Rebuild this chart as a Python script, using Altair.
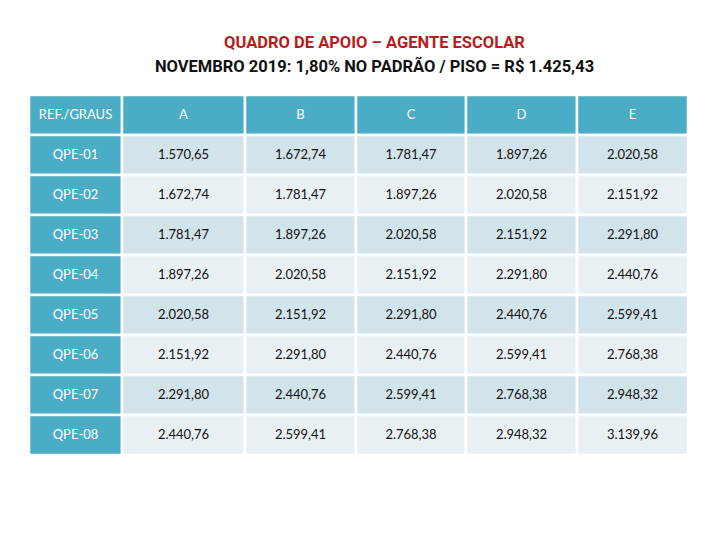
import altair as alt
import pandas as pd

title_line1 = "QUADRO DE APOIO – AGENTE ESCOLAR"
title_line2 = "NOVEMBRO 2019: 1,80% NO PADRÃO / PISO = R$ 1.425,43"

header = ["REF./GRAUS", "A", "B", "C", "D", "E"]
row_labels = ["QPE-01", "QPE-02", "QPE-03", "QPE-04", "QPE-05", "QPE-06", "QPE-07", "QPE-08"]
col_A = ["1.570,65", "1.672,74", "1.781,47", "1.897,26", "2.020,58", "2.151,92", "2.291,80", "2.440,76"]
col_B = ["1.672,74", "1.781,47", "1.897,26", "2.020,58", "2.151,92", "2.291,80", "2.440,76", "2.599,41"]
col_C = ["1.781,47", "1.897,26", "2.020,58", "2.151,92", "2.291,80", "2.440,76", "2.599,41", "2.768,38"]
col_D = ["1.897,26", "2.020,58", "2.151,92", "2.291,80", "2.440,76", "2.599,41", "2.768,38", "2.948,32"]
col_E = ["2.020,58", "2.151,92", "2.291,80", "2.440,76", "2.599,41", "2.768,38", "2.948,32", "3.139,96"]

# relative column widths of the table layout
col_widths = [93, 123, 111, 110, 111, 111]

edges = [0]
for w in col_widths:
    edges.append(edges[-1] + w)

columns = [row_labels, col_A, col_B, col_C, col_D, col_E]
row_order = ["HEADER"] + row_labels

records = []
for ci, h in enumerate(header):
    records.append(dict(row="HEADER", x0=edges[ci], x1=edges[ci + 1],
                        xm=(edges[ci] + edges[ci + 1]) / 2, text=h, kind="head"))
for ri, rl in enumerate(row_labels):
    for ci, col in enumerate(columns):
        if ci == 0:
            kind = "head"
        else:
            kind = "odd" if ri % 2 == 0 else "even"
        records.append(dict(row=rl, x0=edges[ci], x1=edges[ci + 1],
                            xm=(edges[ci] + edges[ci + 1]) / 2, text=col[ri], kind=kind))
df = pd.DataFrame(records)

W = edges[-1]
H = 360

xs = alt.Scale(domain=[0, W], range=[0, W], nice=False, zero=False)
ys = alt.Scale(domain=row_order, paddingInner=0.0, paddingOuter=0)

color_scale = alt.Scale(domain=["head", "odd", "even"], range=["#4BACC6", "#D2E3EA", "#E9F0F3"])
text_scale = alt.Scale(domain=["head", "odd", "even"], range=["#FFFFFF", "#111111", "#111111"])

base = alt.Chart(df)

rects = base.mark_rect(stroke="white", strokeWidth=2.5).encode(
    x=alt.X("x0:Q", scale=xs, axis=None),
    x2="x1:Q",
    y=alt.Y("row:N", scale=ys, sort=row_order, axis=None),
    color=alt.Color("kind:N", scale=color_scale, legend=None),
)

texts = base.mark_text(font="Lato", fontSize=13, align="center", baseline="middle").encode(
    x=alt.X("xm:Q", scale=xs, axis=None),
    y=alt.Y("row:N", scale=ys, sort=row_order, axis=None),
    text="text:N",
    color=alt.Color("kind:N", scale=text_scale, legend=None),
)

chart = alt.layer(rects, texts).resolve_scale(color="independent").properties(
    width=W,
    height=H,
    autosize=alt.AutoSizeParams(type="none"),
    padding={"left": 21, "top": 87, "right": 10, "bottom": 10},
    title=alt.TitleParams(
        text=title_line1,
        subtitle=title_line2,
        font="Roboto",
        subtitleFont="Roboto",
        fontSize=16.5,
        subtitleFontSize=16.5,
        fontWeight="bold",
        subtitleFontWeight="bold",
        color="#B71C1C",
        subtitleColor="#111111",
        anchor="middle",
        dx=16,
        offset=18,
        subtitlePadding=8,
    ),
).configure_view(stroke=None)

chart.save("out.html", embed_options={"renderer": "svg", "actions": False})
